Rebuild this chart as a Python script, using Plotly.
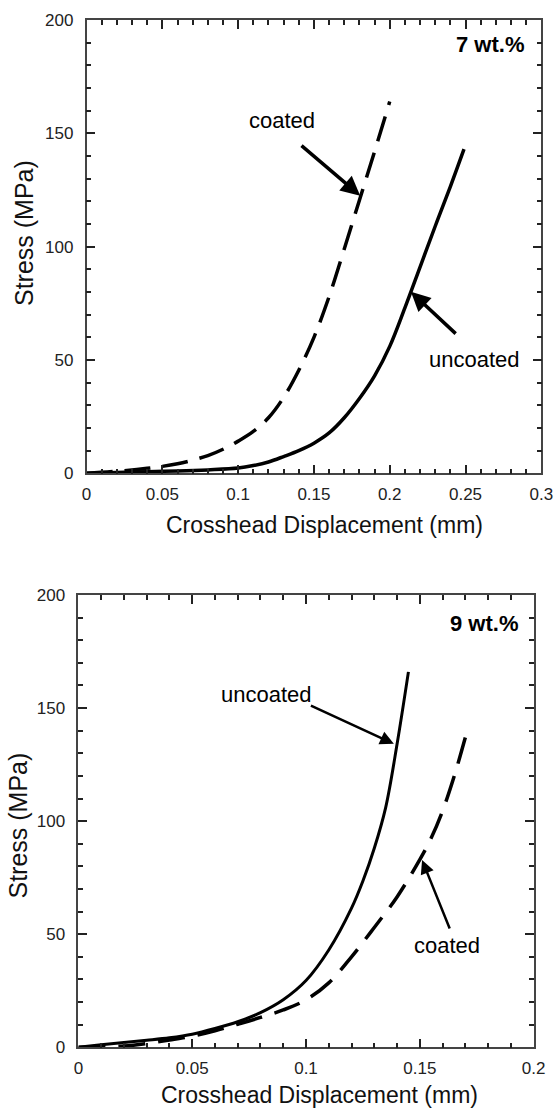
import plotly.graph_objects as go

# ---------------- data ----------------
p1_uncoated_x = [0, 0.02, 0.04, 0.06, 0.08, 0.10, 0.11, 0.12, 0.13, 0.14, 0.15, 0.16,
                 0.17, 0.18, 0.19, 0.20, 0.21, 0.22, 0.23, 0.24, 0.249]
p1_uncoated_y = [0, 0.4, 0.7, 1.0, 1.5, 2.3, 3.4, 5.0, 7.4, 10.0, 13.3, 17.8,
                 24.5, 33.0, 43.0, 56.0, 73.0, 91.0, 109.0, 126.5, 143.0]
p1_coated_x = [0, 0.02, 0.04, 0.06, 0.08, 0.09, 0.10, 0.11, 0.12, 0.13, 0.14, 0.15,
               0.16, 0.17, 0.18, 0.19, 0.20]
p1_coated_y = [0, 0.9, 2.2, 4.2, 7.8, 10.6, 14.2, 18.5, 24.5, 33.5, 45.5, 60.0,
               78.0, 99.0, 120.5, 142.0, 164.0]

p2_uncoated_x = [0, 0.01, 0.02, 0.03, 0.04, 0.05, 0.06, 0.07, 0.08, 0.09, 0.10, 0.11,
                 0.12, 0.125, 0.13, 0.135, 0.14, 0.145]
p2_uncoated_y = [0, 1.1, 2.1, 3.1, 4.2, 5.8, 8.3, 11.3, 15.3, 21.0, 29.5, 43.0,
                 61.5, 73.5, 88.0, 106.0, 134.0, 166.0]
p2_coated_x = [0, 0.01, 0.02, 0.03, 0.04, 0.05, 0.06, 0.07, 0.08, 0.09, 0.10, 0.11,
               0.12, 0.13, 0.14, 0.15, 0.155, 0.16, 0.165, 0.17]
p2_coated_y = [0, 0.2, 0.6, 1.7, 3.2, 4.9, 7.3, 10.2, 13.2, 16.5, 21.0, 28.5,
               40.0, 53.0, 66.5, 83.0, 92.5, 104.5, 119.5, 137.0]

panel_labels = ["7 wt.%", "9 wt.%"]
x_title = "Crosshead Displacement (mm)"
y_title = "Stress (MPa)"
x1_range = [0, 0.3]
x2_range = [0, 0.2]
y_range = [0, 200]

# ---------------- figure ----------------
W, H = 554, 1110
FONT = "Liberation Sans, Arial, Helvetica, sans-serif"
AX = "#222222"

fig = go.Figure()

fig.add_trace(go.Scatter(x=p1_uncoated_x, y=p1_uncoated_y, mode="lines",
                         line=dict(color="black", width=3.5, shape="spline", smoothing=1.0),
                         xaxis="x", yaxis="y", showlegend=False))
fig.add_trace(go.Scatter(x=p1_coated_x, y=p1_coated_y, mode="lines",
                         line=dict(color="black", width=3.5, dash="26px,12px",
                                   shape="spline", smoothing=1.0),
                         xaxis="x", yaxis="y", showlegend=False))
fig.add_trace(go.Scatter(x=p2_uncoated_x, y=p2_uncoated_y, mode="lines",
                         line=dict(color="black", width=3, shape="spline", smoothing=1.0),
                         xaxis="x2", yaxis="y2", showlegend=False))
fig.add_trace(go.Scatter(x=p2_coated_x, y=p2_coated_y, mode="lines",
                         line=dict(color="black", width=3.5, dash="27px,13px",
                                   shape="spline", smoothing=1.0),
                         xaxis="x2", yaxis="y2", showlegend=False))


def px_x(p):
    return p / W


def px_y(p):
    return 1 - p / H


def axis_style(dtick, minor_dtick, standoff):
    return dict(
        showgrid=False, zeroline=False, showline=True, linecolor="#444444", linewidth=1.6,
        mirror="allticks", ticks="inside", ticklen=9, tickwidth=2, tickcolor=AX,
        tickmode="linear", tick0=0, dtick=dtick,
        tickfont=dict(family=FONT, size=17, color="#222222"),
        ticklabelstandoff=standoff,
        minor=dict(tickmode="linear", tick0=0, dtick=minor_dtick, ticks="inside",
                   ticklen=5, tickcolor=AX, tickwidth=1.8, showgrid=False),
    )


fig.update_layout(
    width=W, height=H,
    margin=dict(l=0, r=0, t=0, b=0, pad=0, autoexpand=False),
    paper_bgcolor="white", plot_bgcolor="white",
    xaxis=dict(domain=[px_x(86.6), px_x(541.3)], range=x1_range, anchor="y",
               **axis_style(0.05, 0.01, 4)),
    yaxis=dict(domain=[px_y(473.3), px_y(20)], range=y_range, anchor="x",
               **axis_style(50, 10, 8)),
    xaxis2=dict(domain=[px_x(78.4), px_x(533.6)], range=x2_range, anchor="y2",
                **axis_style(0.05, 0.01, 4)),
    yaxis2=dict(domain=[px_y(1047.3), px_y(595)], range=y_range, anchor="x2",
                **axis_style(50, 10, 8)),
)

ann = []
tfont = dict(family=FONT, size=22, color="black")
for cx, cy in [(324.3, 525), (319, 1095)]:
    ann.append(dict(text=x_title, xref="paper", yref="paper", x=px_x(cx), y=px_y(cy),
                    xanchor="center", yanchor="middle", showarrow=False,
                    font=dict(family=FONT, size=23, color="#111111")))
for cx, cy in [(24, 233), (17.5, 826)]:
    ann.append(dict(text=y_title, xref="paper", yref="paper", x=px_x(cx), y=px_y(cy),
                    xanchor="center", yanchor="middle", showarrow=False, textangle=-90,
                    font=dict(family=FONT, size=25, color="#111111")))

ann.append(dict(text="<b>" + panel_labels[0] + "</b>", xref="x", yref="y", x=0.290, y=189,
                xanchor="right", yanchor="middle", showarrow=False, font=tfont))
ann.append(dict(text="<b>" + panel_labels[1] + "</b>", xref="x2", yref="y2", x=0.194, y=187.5,
                xanchor="right", yanchor="middle", showarrow=False, font=tfont))

ann.append(dict(text="coated", xref="x", yref="y", x=0.129, y=155.6,
                xanchor="center", yanchor="middle", showarrow=False, font=tfont))
ann.append(dict(text="uncoated", xref="x", yref="y", x=0.2557, y=50,
                xanchor="center", yanchor="middle", showarrow=False, font=tfont))
ann.append(dict(text="uncoated", xref="x2", yref="y2", x=0.0828, y=155.8,
                xanchor="center", yanchor="middle", showarrow=False, font=tfont))
ann.append(dict(text="coated", xref="x2", yref="y2", x=0.1619, y=44.8,
                xanchor="center", yanchor="middle", showarrow=False, font=tfont))

arrows = [
    ("x", "y", 0.1805, 122.5, 0.1408, 145.1, 3.5, 1.1),
    ("x", "y", 0.2140, 80.1, 0.2445, 61.0, 3.5, 1.1),
    ("x2", "y2", 0.1386, 134.2, 0.1015, 151.4, 2.5, 1.1),
    ("x2", "y2", 0.1510, 82.8, 0.1634, 51.9, 2.5, 1.1),
]
for xr, yr, x, y, axv, ayv, w, s in arrows:
    ann.append(dict(text="", xref=xr, yref=yr, x=x, y=y, axref=xr, ayref=yr, ax=axv, ay=ayv,
                    showarrow=True, arrowhead=2, arrowsize=s, arrowwidth=w,
                    arrowcolor="black", standoff=0))

fig.update_layout(annotations=ann)

fig.write_html(
    "out.html",
    config={"displayModeBar": False},
    post_script="document.body.style.margin='0px';document.body.style.padding='0px';"
                "document.body.style.overflow='hidden';",
)
